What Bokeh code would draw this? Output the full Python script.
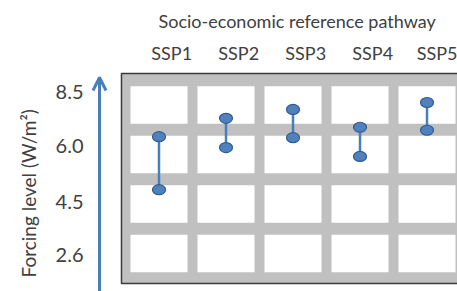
from bokeh.plotting import figure
from bokeh.models import Range1d, FixedTicker, LinearAxis, Arrow, OpenHead, Title
from bokeh.embed import file_html
from bokeh.resources import INLINE

# ---- data -------------------------------------------------------------
pathways = ["SSP1", "SSP2", "SSP3", "SSP4", "SSP5"]
forcing_levels = ["2.6", "4.5", "6.0", "8.5"]
# forcing range of each pathway, in grid-row units (row 0 = 2.6 ... row 3 = 8.5)
upper = [2.36, 2.73, 2.91, 2.55, 3.05]
lower = [1.29, 2.14, 2.34, 1.96, 2.49]

# ---- layout helpers -----------------------------------------------------
FONT = "Lato"
TXT = "#404040"
BLUE = "#4a7ebb"
FS = "18px"

col_idx = list(range(len(pathways)))
row_idx = list(range(len(forcing_levels)))
ytick_pos = [-0.04, 1.05, 2.18, 3.27]
xtick_pos = [0.19, 1.19, 2.19, 3.19, 4.17]

p = figure(frame_width=372, frame_height=221,
           x_range=Range1d(-1.097, 4.455), y_range=Range1d(-0.768, 3.697),
           output_backend="svg", toolbar_location=None,
           x_axis_location=None, y_axis_location="left",
           min_border_left=85, min_border_right=0,
           min_border_top=70, min_border_bottom=0)
p.outline_line_color = None
p.grid.visible = False
p.background_fill_color = "white"
p.border_fill_color = "white"

# y axis
ya = p.yaxis[0]
ya.ticker = FixedTicker(ticks=ytick_pos)
ya.major_label_overrides = {t: lab for t, lab in zip(ytick_pos, forcing_levels)}
ya.axis_line_color = None
ya.major_tick_line_color = None
ya.minor_tick_line_color = None
ya.major_label_standoff = -4
ya.major_label_text_font = FONT
ya.major_label_text_font_size = "20px"
ya.major_label_text_color = TXT

# top axis with pathway names
xa = LinearAxis(ticker=FixedTicker(ticks=xtick_pos),
                major_label_overrides={t: lab for t, lab in zip(xtick_pos, pathways)})
xa.axis_line_color = None
xa.major_tick_line_color = None
xa.minor_tick_line_color = None
xa.major_label_standoff = 1
xa.major_label_text_font = FONT
xa.major_label_text_font_size = FS
xa.major_label_text_color = TXT
p.add_layout(xa, "above")

p.add_layout(Title(text="Socio-economic reference pathway", align="left", offset=73,
                   standoff=13,
                   text_font=FONT, text_font_size=FS, text_font_style="normal",
                   text_color=TXT), "above")
p.add_layout(Title(text="Forcing level (W/m\u00b2)", align="left", offset=14,
                   standoff=25,
                   text_font=FONT, text_font_size="19px", text_font_style="normal",
                   text_color=TXT), "left")

# gray box with white cells
box_left, box_right = -0.56, 4.545
box_bottom, box_top = -0.606, 3.636
p.rect(x=[(box_left + box_right) / 2], y=[(box_bottom + box_top) / 2],
       width=box_right - box_left, height=box_top - box_bottom,
       fill_color="#c0c0c0", line_color="#3a3a3a", line_width=1.5)
cx = [c for c in col_idx for r in row_idx]
cy = [r for c in col_idx for r in row_idx]
p.rect(x=cx, y=cy, width=0.851, height=0.758, fill_color="white", line_color=None)

# arrow
p.add_layout(Arrow(end=OpenHead(size=13, line_width=3, line_color=BLUE),
                   x_start=-0.888, y_start=-0.9, x_end=-0.888, y_end=3.556,
                   line_width=3, line_color=BLUE))

# ranges
p.segment(x0=col_idx, y0=lower, x1=col_idx, y1=upper, line_width=2.5, line_color=BLUE)
p.ellipse(x=col_idx + col_idx, y=upper + lower, width=13, height=10,
          width_units="screen", height_units="screen",
          fill_color="#4f81bd", line_color="#2f5b92", line_width=1.2)

open("out.html", "w").write(file_html(p, INLINE))
